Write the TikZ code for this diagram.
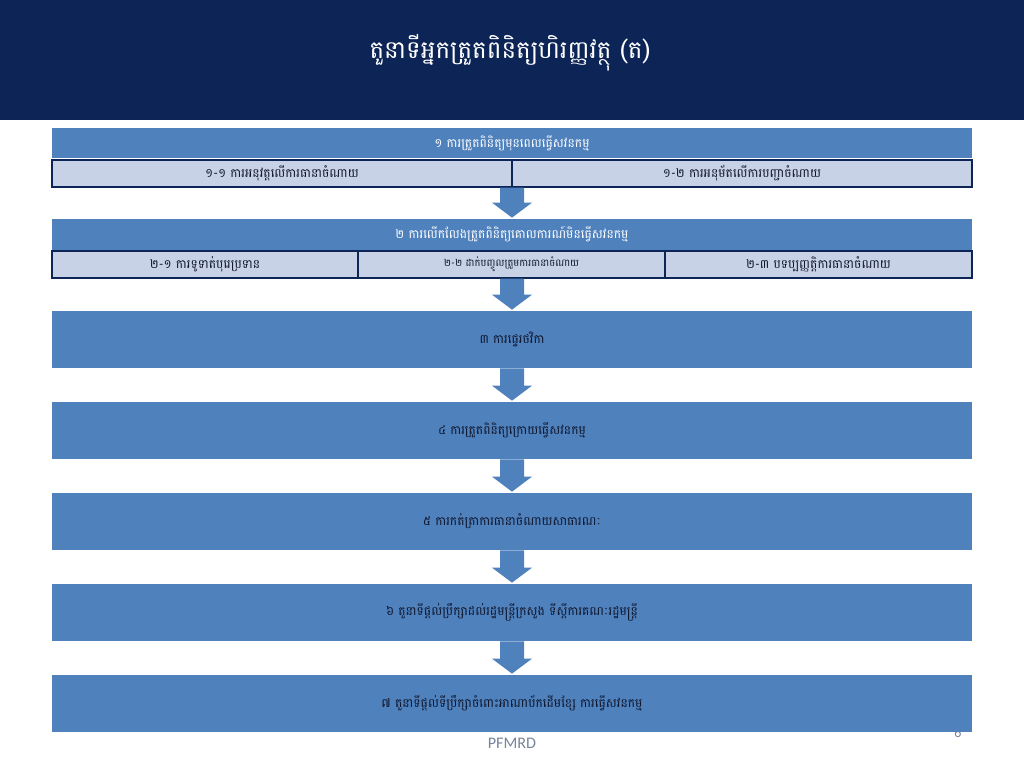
\documentclass[tikz,border=0pt]{standalone}
\usepackage{fontspec}
\newfontfamily\khmer[Script=Khmer]{Battambang}
\newfontfamily\slidesans{Carlito}
\usetikzlibrary{positioning,calc}
\definecolor{navy}{RGB}{12,36,86}
\definecolor{stp}{RGB}{79,129,189}
\definecolor{sub}{RGB}{200,210,230}
\definecolor{ink}{RGB}{15,22,45}
\definecolor{footc}{RGB}{120,132,155}

\begin{document}
\begin{tikzpicture}[x=0.2mm,y=-0.2mm,
    bigbox/.style={rectangle,fill=stp,inner sep=0pt,minimum width=184mm,font=\khmer\fontsize{7}{9}\selectfont},
    head/.style={bigbox,minimum height=6mm,text=white},
    stepbox/.style={bigbox,minimum height=11.4mm,text=ink},
    subbox/.style={rectangle,fill=sub,draw=navy,line width=0.3mm,inner sep=0pt,minimum height=5.4mm,text=ink,font=\khmer\fontsize{7}{9}\selectfont},
    flow/.style={fill=stp}]
  \fill[white] (0,0) rectangle (1024,768);
  \fill[navy] (0,0) rectangle (1024,120);
  \node[text=white,font=\khmer\fontsize{14}{17}\selectfont] (title) at (510,53) {តួនាទីអ្នកត្រួតពិនិត្យហិរញ្ញវត្ថុ (ត)};
  \node[text=footc,font=\slidesans\fontsize{8}{9}\selectfont] (pnum) at (958,733) {6};
  % step 1
  \node[head] (b1) at (512,143) {១ ការត្រួតពិនិត្យមុនពេលធ្វើសវនកម្ម};
  \node[subbox,minimum width=92mm] (s11) at (282,173.5) {១-១ ការអនុវត្តលើការធានាចំណាយ};
  \node[subbox,minimum width=92mm] (s12) at (742,173.5) {១-២ ការអនុម័តលើការបញ្ជាចំណាយ};
  % step 2
  \node[head,minimum height=6.2mm] (b2) at (512,234.5) {២ ការលើកលែងត្រួតពិនិត្យគោលការណ៍មិនធ្វើសវនកម្ម};
  \node[subbox,minimum width=61.2mm] (s21) at (205,264.5) {២-១ ការទូទាត់បុរេប្រទាន};
  \node[subbox,minimum width=61.4mm,font=\khmer\fontsize{5.7}{7}\selectfont] (s22) at (511.5,264.5) {២-២ ដាក់បញ្ចូលត្រួមការធានាចំណាយ};
  \node[subbox,minimum width=61.4mm] (s23) at (818.5,264.5) {២-៣ បទប្បញ្ញត្តិការធានាចំណាយ};
  % steps 3-7
  \node[stepbox] (b3) at (512,339.5) {៣ ការផ្ទេរថវិកា};
  \node[stepbox] (b4) at (512,430.5) {៤ ការត្រួតពិនិត្យក្រោយធ្វើសវនកម្ម};
  \node[stepbox] (b5) at (512,521.5) {៥ ការកត់ត្រាការធានាចំណាយសាធារណៈ};
  \node[stepbox] (b6) at (512,612.5) {៦ តួនាទីផ្តល់ប្រឹក្សាដល់រដ្ឋមន្ត្រីក្រសួង ទីស្តីការគណៈរដ្ឋមន្ត្រី};
  \node[stepbox] (b7) at (512,703.5) {៧ តួនាទីផ្តល់ទីប្រឹក្សាចំពោះអាណាប័កដើមខ្សែ ការធ្វើសវនកម្ម};
  % block arrows
  \foreach \a/\b in {s12/b2,s23/b3,b3/b4,b4/b5,b5/b6,b6/b7}
    \fill[flow] let \p1=(b1.center|-\a.south), \p2=(b1.center|-\b.north) in
      (\x1-2.4mm,\y1) -- (\x1+2.4mm,\y1) -- (\x1+2.4mm,\y2+3.2mm) -- (\x1+4mm,\y2+3.2mm)
      -- (\x1,\y2+0.2mm) -- (\x1-4mm,\y2+3.2mm) -- (\x1-2.4mm,\y2+3.2mm) -- cycle;
  \node[text=footc,font=\slidesans\fontsize{9.2}{11}\selectfont] (foot) at (512,743) {PFMRD};
\end{tikzpicture}
\end{document}
